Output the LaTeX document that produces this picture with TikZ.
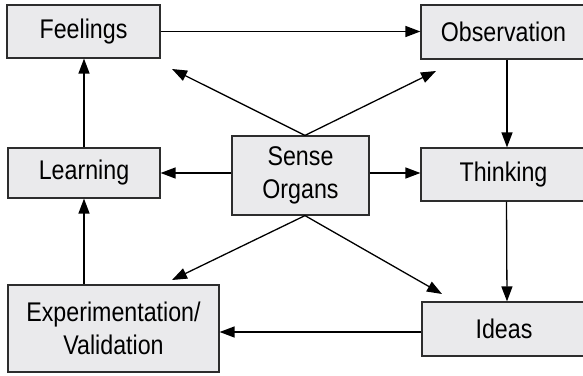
\documentclass[tikz,border=0pt]{standalone}
\usepackage{fontspec}
\setmainfont[FakeStretch=0.86]{Liberation Sans}
\usetikzlibrary{arrows.meta,calc}
\definecolor{boxfill}{RGB}{234,234,236}
\definecolor{boxline}{RGB}{45,45,45}

\begin{document}
\begin{tikzpicture}[x=0.5pt,y=-0.5pt,
    stage/.style={draw=boxline,line width=0.6pt,fill=boxfill,inner sep=0pt,
        align=center,font=\fontsize{13.5}{16.5}\selectfont},
    flow/.style={-{Triangle[length=7.5pt,width=5.5pt]},line width=0.65pt}]

    % Keep the page to the size of the picture
    \clip (0,0) rectangle (583,375);

    % The boxes of the cycle
    \node[stage,minimum width=76.5pt,minimum height=26.5pt] (feel) at (83.5,31.5) {Feelings};
    \node[stage,minimum width=82.5pt,minimum height=27pt] (obs) at (503.5,32) {Observation};
    \node[stage,minimum width=82.5pt,minimum height=26.5pt] (think) at (503.5,174.5) {Thinking};
    \node[stage,minimum width=82pt,minimum height=27pt] (ideas) at (504,329) {Ideas};
    \node[stage,minimum width=105.5pt,minimum height=43.5pt] (exper) at (113.5,328.5) {Experimentation/\\Validation};
    \node[stage,minimum width=76pt,minimum height=25pt] (learn) at (84,173) {Learning};

    % The box in the middle
    \node[stage,minimum width=68.5pt,minimum height=39.5pt] (sense) at (300.5,175.5) {Sense\\Organs};

    % Free ends of the slanted arrows
    \coordinate (tl) at (172,69);
    \coordinate (tr) at (436,71);
    \coordinate (bl) at (172,280);
    \coordinate (br) at (442,294);

    % Arrows round the cycle
    \draw[flow] (feel.east) -- (obs.west |- feel.east);
    \draw[flow] ([xshift=1.75pt]obs.south) -- ([xshift=1.75pt]think.north);
    \draw[flow] ([xshift=1.5pt]think.south) -- ([xshift=1.5pt]ideas.north);
    \draw[flow] ([yshift=-1.5pt]ideas.west) -- ([yshift=-1.5pt]exper.east |- ideas.west);
    \draw[flow] (exper.north -| learn.south) -- (learn.south);
    \draw[flow] (learn.north) -- (feel.south -| learn.north);

    % Arrows out of the sense organs
    \draw[flow] (sense.west |- learn.east) -- (learn.east);
    \draw[flow] (sense.east |- learn.east) -- (think.west |- learn.east);
    \foreach \t in {tl,tr}{
        \draw[flow] ([xshift=2.25pt]sense.north) -- (\t);
    }
    \foreach \b in {bl,br}{
        \draw[flow] ([xshift=2.25pt]sense.south) -- (\b);
    }

\end{tikzpicture}
\end{document}
